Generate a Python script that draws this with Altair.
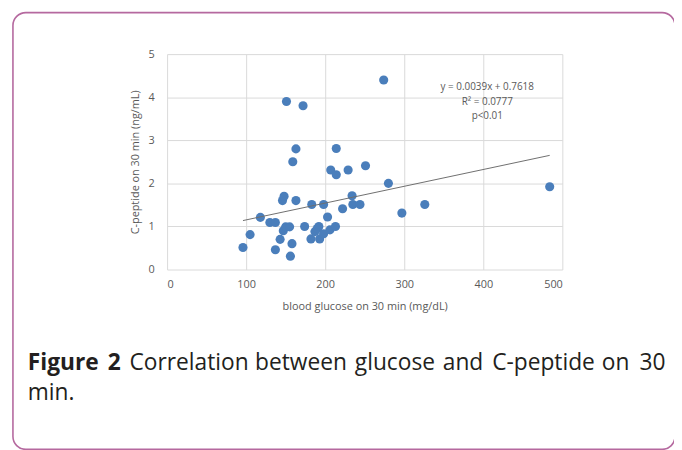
import altair as alt
import pandas as pd

# Data
glucose = [96, 105, 118, 130, 137, 137, 143, 147, 150, 155, 158, 156, 146, 148, 163,
           159, 163, 151, 172, 174, 183, 198, 182, 187, 190, 192, 193, 198, 203, 206,
           213, 207, 214, 214, 229, 251, 222, 234, 235, 244, 274, 280, 297, 326, 484]
cpeptide = [0.51, 0.81, 1.21, 1.09, 1.09, 0.46, 0.70, 0.90, 0.99, 0.99, 0.60, 0.31, 1.60, 1.70, 1.60,
            2.50, 2.80, 3.90, 3.80, 1.00, 1.51, 1.51, 0.71, 0.88, 0.95, 1.00, 0.71, 0.83, 1.22, 0.92,
            1.00, 2.31, 2.20, 2.81, 2.31, 2.41, 1.41, 1.71, 1.51, 1.51, 4.40, 2.00, 1.31, 1.51, 1.92]

slope = 0.0039
intercept = 0.7618
fit_x = [96, 484]
fit_y = [slope * v + intercept for v in fit_x]

x_ticks = [0, 100, 200, 300, 400, 500]
y_ticks = [0, 1, 2, 3, 4, 5]

annotation = ["y = 0.0039x + 0.7618", "R² = 0.0777", "p<0.01"]
caption_words_1 = ["Figure", "2", "Correlation", "between", "glucose", "and", "C-peptide", "on", "30"]
caption_bold_count = 2
caption_line2 = "min."

df = pd.DataFrame({"glucose": glucose, "cpeptide": cpeptide})
fit_df = pd.DataFrame({"glucose": fit_x, "cpeptide": fit_y})
one = pd.DataFrame({"a": [0]})

FONT = "Open Sans"
GRAY = "#595959"
TXT = "#231f20"

xscale = alt.Scale(domain=[0, 500], nice=False)
yscale = alt.Scale(domain=[0, 5], nice=False)

xaxis = alt.Axis(values=x_ticks, title="blood glucose on 30 min (mg/dL)", grid=True,
                 gridColor="#d9d9d9", domain=False, ticks=False, labelPadding=9,
                 labelColor=GRAY, titleColor=GRAY, labelFontSize=11, titleFontSize=11,
                 labelFont=FONT, titleFont=FONT, titleFontWeight="normal", titlePadding=11)
yaxis = alt.Axis(values=y_ticks, title="C-peptide on 30 min (ng/mL)", grid=True,
                 gridColor="#d9d9d9", domain=False, ticks=False, labelPadding=13,
                 labelColor=GRAY, titleColor=GRAY, labelFontSize=11, titleFontSize=11,
                 labelFont=FONT, titleFont=FONT, titleFontWeight="normal", titlePadding=8)

points = alt.Chart(df).mark_circle(size=85, opacity=1, color="#4a7ebb").encode(
    x=alt.X("glucose:Q", scale=xscale, axis=xaxis),
    y=alt.Y("cpeptide:Q", scale=yscale, axis=yaxis),
)

fit = alt.Chart(fit_df).mark_line(color="#6e6e6e", strokeWidth=1).encode(
    x=alt.X("glucose:Q", scale=xscale),
    y=alt.Y("cpeptide:Q", scale=yscale),
)

layers = [points, fit]

# regression annotation (pixel positions within the plot area)
ann_y = [33, 49, 63]
for t, yy in zip(annotation, ann_y):
    layers.append(alt.Chart(one).mark_text(font=FONT, fontSize=10, color=GRAY, align="center",
                                           baseline="middle").encode(
        x=alt.value(324), y=alt.value(yy), text=alt.value(t)))

# rounded frame around the figure
layers.append(alt.Chart(one).mark_rect(filled=False, stroke="#b5699f", strokeWidth=1.6,
                                       cornerRadius=13).encode(
    x=alt.value(-156), x2=alt.value(514), y=alt.value(-42), y2=alt.value(400)))

# caption (justified line placed word by word)
word_x = [-141, -60, -38, 89, 190, 279, 329, 440, 478]
for i, (w, wx) in enumerate(zip(caption_words_1, word_x)):
    layers.append(alt.Chart(one).mark_text(
        font=FONT, fontSize=23, fontWeight="bold" if i < caption_bold_count else "normal",
        color=TXT, align="left", baseline="alphabetic").encode(
        x=alt.value(wx), y=alt.value(320), text=alt.value(w)))
layers.append(alt.Chart(one).mark_text(font=FONT, fontSize=23, color=TXT, align="left",
                                       baseline="alphabetic").encode(
    x=alt.value(-141), y=alt.value(350), text=alt.value(caption_line2)))

chart = alt.layer(*layers).properties(
    width=400, height=218,
    padding={"left": 161, "top": 44, "right": 113, "bottom": 180},
    autosize=alt.AutoSizeParams(type="none"),
    background="white",
).configure_view(stroke=None)

chart.save("out.html", embed_options={"renderer": "svg", "actions": False})
